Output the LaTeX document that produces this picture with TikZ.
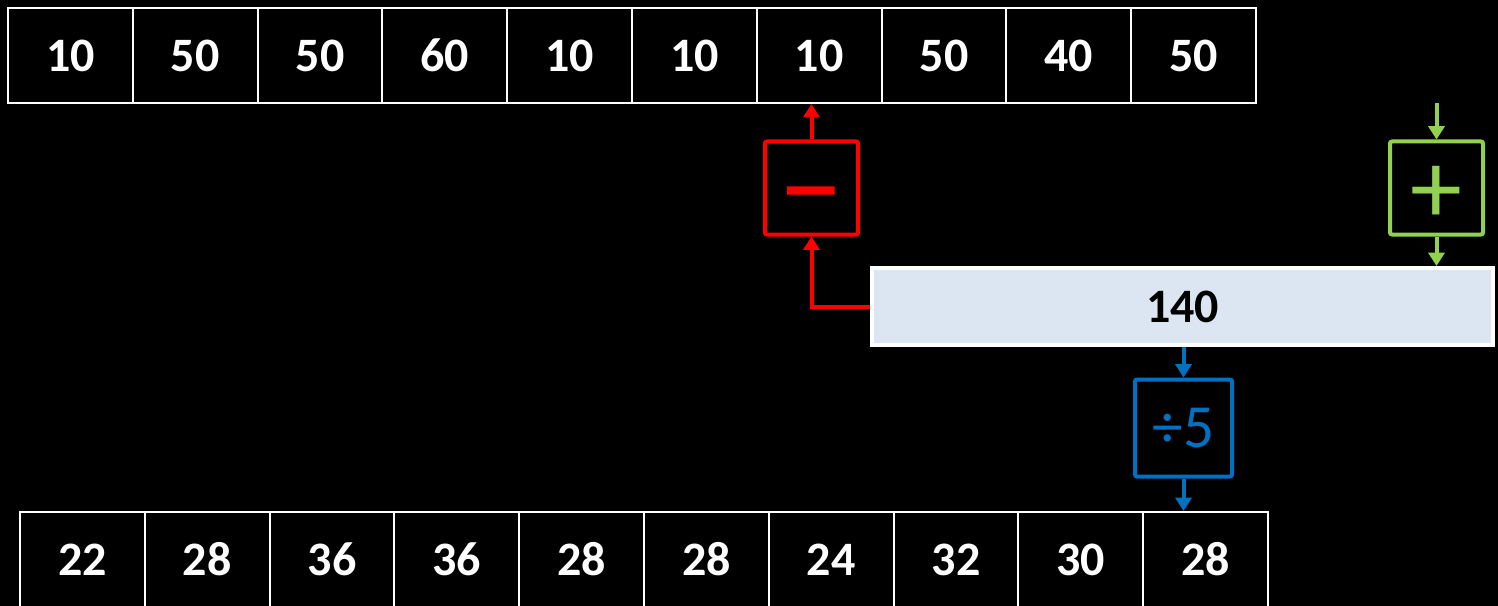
\documentclass[tikz,border=0pt]{standalone}
\usepackage{fontspec}
\setmainfont{Carlito}
\usetikzlibrary{arrows.meta}

\definecolor{opred}{HTML}{FF0000}
\definecolor{opgreen}{HTML}{92D050}
\definecolor{opblue}{HTML}{0070C0}
\definecolor{sumfill}{HTML}{DCE6F2}

\tikzset{
  cell/.style={draw=white, line width=1.5pt, minimum width=93.6pt, minimum height=71.25pt, inner sep=0pt, text=white, font=\fontsize{36}{40}\selectfont\bfseries},
  opbox/.style={draw=#1, line width=3pt, rounded corners=1.5pt, minimum size=69.75pt, inner sep=0pt, text=#1},
  oparrow/.style={draw=#1, line width=3pt, -{Triangle[width=12pt,length=10pt]}},
}

\begin{document}
\begin{tikzpicture}[x=0.75pt, y=-0.75pt]
\useasboundingbox (0,0) rectangle (1498,606);
\clip (0,0) rectangle (1498,606);
\fill[black] (0,0) rectangle (1498,606);

% top row
\foreach \v [count=\i] in {10,50,50,60,10,10,10,50,40,50}
  \node[cell] (t\i) at ({8+124.8*(\i-0.5)}, 55.5) {\v};

% bottom row
\foreach \v [count=\i] in {22,28,36,36,28,28,24,32,30,28}
  \node[cell] (b\i) at ({20+124.8*(\i-0.5)}, 559.5) {\v};

% running sum
\node[draw=white, line width=3pt, fill=sumfill, minimum width=465.75pt, minimum height=57.75pt, inner sep=0pt,
  font=\fontsize{36}{40}\selectfont\bfseries] (sum) at (1182.5,306.5) {140};

% operations
\node[opbox=opred, text height=65pt, text depth=0pt, font=\fontsize{96}{96}\selectfont] (minus) at (811.5,188) {−};
\node[opbox=opgreen, text height=53pt, text depth=0pt, font=\fontsize{78}{78}\selectfont] (plus) at (1436.5,188) {+};
\node[opbox=opblue, minimum size=72.75pt, font=\fontsize{46}{50}\selectfont] (div) at (1183.5,428) {÷5};
\coordinate (gtop) at (1436.5,103);

\draw[oparrow=opred] (sum.west) -| (minus.south);
\draw[oparrow=opred] (minus.north) -- (minus.north |- t7.south);
\draw[oparrow=opgreen] (gtop) -- (plus.north);
\draw[oparrow=opgreen] (plus.south) -- (plus.south |- sum.north);
\draw[oparrow=opblue] (sum.south -| div.north) -- (div.north);
\draw[oparrow=opblue] (div.south) -- (div.south |- b10.north);

\end{tikzpicture}
\end{document}
